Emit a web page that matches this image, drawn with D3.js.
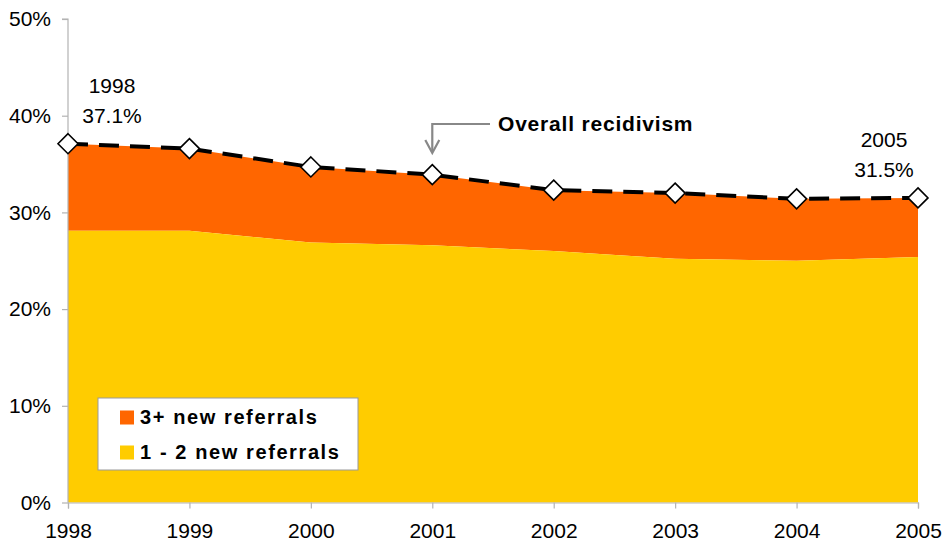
<!DOCTYPE html>
<html><head><meta charset="utf-8">
<script src="https://cdn.jsdelivr.net/npm/d3@7"></script>
<style>body{margin:0;background:#fff;}svg{display:block;font-family:"Liberation Sans",Arial,sans-serif;}</style>
</head><body>
<svg id="c" width="942" height="546"></svg>
<script>
const years = [1998,1999,2000,2001,2002,2003,2004,2005];
const oneToTwo = [28.1,28.1,26.9,26.6,26.0,25.2,25.0,25.4];
const threePlus = [9.0,8.5,7.8,7.3,6.3,6.8,6.4,6.1];
const overall = [37.1,36.6,34.7,33.9,32.3,32.0,31.4,31.5];
const yTicks = [0,10,20,30,40,50];
const seriesNames = ["3+ new referrals","1 - 2 new referrals"];
const colors = {"3+":"#FF6600","12":"#FFCC00"};

const svg = d3.select("#c");
const x = d3.scaleLinear().domain([1998,2005]).range([68,918]);
const y = d3.scaleLinear().domain([0,50]).range([502.5,19]);

const data = years.map((yr,i)=>({yr, a:oneToTwo[i], b:threePlus[i], t:overall[i]}));

// areas
const areaLow = d3.area().x(d=>x(d.yr)).y0(y(0)).y1(d=>y(d.a));
const areaHigh = d3.area().x(d=>x(d.yr)).y0(d=>y(d.a)).y1(d=>y(d.a+d.b));
svg.append("path").datum(data).attr("d",areaHigh).attr("fill",colors["3+"]);
svg.append("path").datum(data).attr("d",areaLow).attr("fill",colors["12"]);

// axes
const yAxis = svg.append("g").attr("transform","translate(68,0)")
  .call(d3.axisLeft(y).tickValues(yTicks).tickFormat(d=>d+"%").tickSize(6).tickPadding(11));
const xAxis = svg.append("g").attr("transform",`translate(0,${y(0)})`)
  .call(d3.axisBottom(x).tickValues(years).tickFormat(d3.format("d")).tickSize(6).tickPadding(15));
[yAxis,xAxis].forEach(g=>{
  g.select(".domain").attr("stroke","#b3b3b3").attr("stroke-width",1.2);
  g.selectAll(".tick line").attr("stroke","#b3b3b3").attr("stroke-width",1.2);
  g.selectAll("text").attr("font-size",21).attr("fill","#000").attr("font-family","Liberation Sans, Arial, sans-serif");
});
yAxis.select(".domain").attr("d",`M-6,${y(50)}H0V${y(0)}`);
xAxis.selectAll(".tick text").attr("dy","0.71em");

// overall dashed line
const line = d3.line().x(d=>x(d.yr)).y(d=>y(d.t));
svg.append("path").datum(data).attr("d",line).attr("fill","none")
  .attr("stroke","#000").attr("stroke-width",4).attr("stroke-dasharray","20,11");

// diamonds
svg.selectAll("path.dia").data(data).join("path").attr("class","dia")
  .attr("transform",d=>`translate(${x(d.yr)},${y(d.t)})`)
  .attr("d","M0,-10L10,0L0,10L-10,0Z").attr("fill","#fff").attr("stroke","#000").attr("stroke-width",1.6);

// end labels
function endLabel(i, cx, y1, y2){
  const g = svg.append("g").attr("font-size",21).attr("text-anchor","middle").attr("fill","#000");
  g.append("text").attr("x",cx).attr("y",y1).text(years[i]);
  g.append("text").attr("x",cx).attr("y",y2).text(overall[i].toFixed(1)+"%");
}
endLabel(0, 112, 93, 123);
endLabel(7, 884, 147, 177);

// annotation arrow
const ax = x(2001);
svg.append("path").attr("d",`M490,124H${ax}V152`).attr("fill","none").attr("stroke","#888").attr("stroke-width",2.2);
svg.append("path").attr("d",`M${ax-7},140L${ax},153L${ax+7},140`).attr("fill","none").attr("stroke","#888").attr("stroke-width",2.2);
svg.append("text").attr("x",498).attr("y",131).attr("font-size",21).attr("font-weight","bold")
  .attr("letter-spacing","0.8").text("Overall recidivism");

// legend
const lg = svg.append("g");
lg.append("rect").attr("x",98).attr("y",398).attr("width",260).attr("height",72)
  .attr("fill","#fff").attr("stroke","#999").attr("stroke-width",1);
const legItems = [{name:seriesNames[0],c:colors["3+"],yy:417},{name:seriesNames[1],c:colors["12"],yy:452}];
legItems.forEach(it=>{
  lg.append("rect").attr("x",120).attr("y",it.yy-6.5).attr("width",14).attr("height",14).attr("fill",it.c);
  lg.append("text").attr("x",140).attr("y",it.yy+6.5).attr("font-size",20).attr("font-weight","bold")
    .attr("letter-spacing","1.6").text(it.name);
});
</script>
</body></html>
